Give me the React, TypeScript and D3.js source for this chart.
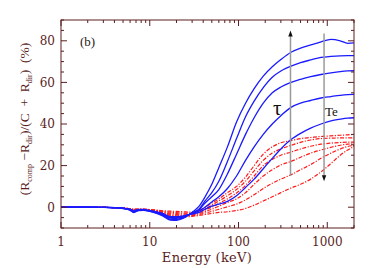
import React from 'react';
import { scaleLog, scaleLinear, line, curveMonotoneX, range } from 'd3';

// energy grid (keV)
const energies = [1, 2, 3, 4, 5, 6, 6.6, 7.5, 8.5, 10, 12, 14, 17, 20, 24, 28, 31, 36, 42, 50, 60, 75, 95, 120, 150, 190, 240, 300, 390, 500, 650, 850, 1100, 1400, 1700, 2000];

// solid blue curves (%)
const blue1 = [0, 0, -0.1, -0.3, -0.7, -1.5, -2.6, -1.6, -1.5, -2, -3, -4.2, -6.2, -6.3, -5.3, -3.5, -2, 0.5, 5, 11, 19, 29, 41, 50, 57, 63, 67.5, 71, 74.5, 76.5, 78, 79.5, 80.7, 80, 78.8, 79];
const blue2 = [0, 0, -0.1, -0.3, -0.6, -1.3, -2.3, -1.5, -1.4, -1.9, -2.8, -3.9, -5.8, -5.9, -5, -3.5, -2.5, -0.8, 3, 7, 12.5, 22, 33, 43.5, 51, 57.5, 62.5, 65.5, 67.8, 69.5, 70.8, 72, 72.5, 72.8, 72.9, 72.9];
const blue3 = [0, 0, -0.1, -0.2, -0.5, -1.2, -2, -1.3, -1.3, -1.8, -2.6, -3.6, -5.3, -5.4, -4.7, -3.5, -2.8, -1.2, 2, 5, 8.5, 16, 25.5, 35, 43, 50, 55, 57.8, 60, 61.5, 62.8, 63.8, 64.6, 65.2, 65.5, 65.6];
const blue4 = [0, 0, -0.1, -0.2, -0.5, -1.1, -1.8, -1.2, -1.2, -1.7, -2.4, -3.3, -4.9, -5, -4.4, -3.4, -3, -1.8, 0, 2.5, 5, 9, 15, 22.5, 29, 35, 40, 44, 48, 50, 51.3, 52.5, 53.2, 53.8, 54.1, 54.2];
const blue5 = [0, 0, -0.1, -0.2, -0.4, -1, -1.6, -1.1, -1.1, -1.6, -2.2, -3, -4.5, -4.6, -4.2, -3.4, -3.2, -2.5, -1, 0.5, 1.5, 2.8, 5.5, 9.5, 13.5, 18.5, 23.5, 28, 32.5, 35.5, 38, 40, 41.5, 42.3, 42.8, 43];

// dash-dot red curves (%)
const red1 = [0, 0, -0.1, -0.2, -0.4, -0.7, -1, -0.9, -0.9, -1.1, -1.4, -1.7, -1.9, -2, -2.2, -2.4, -2.4, -1.5, 0, 2, 4, 7, 10, 14.5, 20, 25.5, 29, 31, 32, 33, 33.5, 34, 34.3, 34.6, 34.8, 35];
const red2 = [0, 0, -0.1, -0.2, -0.4, -0.8, -1.1, -1, -1, -1.2, -1.6, -2, -2.4, -2.6, -2.8, -2.9, -2.8, -2, -0.7, 1, 3, 5.5, 8.5, 12.5, 17.5, 22.5, 26, 28, 29.7, 31.2, 32.3, 33, 33.2, 33.3, 33.3, 33.3];
const red3 = [0, 0, -0.1, -0.2, -0.4, -0.8, -1.1, -1, -1, -1.3, -1.8, -2.3, -2.9, -3.1, -3.3, -3.4, -3.3, -2.5, -1.3, 0, 1.8, 4, 6.8, 10.5, 15, 20, 23, 25, 26.5, 28, 29.3, 30.3, 30.8, 31.1, 31.3, 31.3];
const red4 = [0, 0, -0.1, -0.2, -0.4, -0.9, -1.2, -1.1, -1.1, -1.4, -2, -2.6, -3.4, -3.6, -3.8, -3.8, -3.6, -3, -2, -1, 0.5, 2.3, 4, 7, 11, 15, 18, 20.3, 22, 24, 26, 27.5, 28.8, 29.8, 30.3, 30.5];
const red5 = [0, 0, -0.1, -0.2, -0.4, -0.9, -1.2, -1.1, -1.2, -1.5, -2.2, -2.9, -3.9, -4.1, -4.2, -4.1, -4, -3.5, -2.8, -2, -1, 0.2, 1.5, 3.5, 6, 9, 11.5, 13.5, 15.6, 18, 20.5, 23.5, 26, 28, 29.2, 29.7];
const red6 = [0, 0, -0.1, -0.2, -0.4, -0.9, -1.3, -1.2, -1.2, -1.6, -2.4, -3.2, -4.3, -4.5, -4.6, -4.5, -4.3, -4, -3.5, -3, -2.5, -2.2, -1.6, -0.6, 1, 3, 5, 7, 9.2, 11, 13.5, 17, 21, 25, 27.5, 29.2];

const blueSeries = [blue1, blue2, blue3, blue4, blue5];
const redSeries = [red1, red2, red3, red4, red5, red6];

const xTickLabels = [1, 10, 100, 1000];
const yTickLabels = [0, 20, 40, 60, 80];

// arrows: [energy, from %, to %]
const tauArrow = [385, 15, 85];
const teArrow = [920, 83.5, 12.5];

const W = 374;
const H = 268;
const ink = '#5a1e1e';

const App = () => {
  const x = scaleLog().domain([1, 2000]).range([61, 354]);
  const y = scaleLinear().domain([-10, 90]).range([228, 20]);

  const gen = line<number>()
    .x((d, i) => x(energies[i]))
    .y(d => y(d))
    .curve(curveMonotoneX);

  const minorX: number[] = [];
  [1, 10, 100, 1000].forEach(dec => {
    for (let m = 1; m <= 9; m++) {
      const v = dec * m;
      if (v <= 2000) minorX.push(v);
    }
  });
  const yTicks = range(-10, 91, 5);

  const [x0, x1] = x.range();
  const [y0, y1] = y.range();

  return (
    <svg width={W} height={H} style={{ position: 'absolute', left: 0, top: 0, background: '#fff' }}>
      {/* curves */}
      {redSeries.map((s, i) => (
        <path key={'r' + i} d={gen(s) || ''} fill="none" stroke="#ff1a1a" strokeWidth={1.2}
          strokeDasharray="4,1.5,1.2,1.5" />
      ))}
      {blueSeries.map((s, i) => (
        <path key={'b' + i} d={gen(s) || ''} fill="none" stroke="#1a1aff" strokeWidth={1.3} />
      ))}

      {/* arrows */}
      <line x1={x(tauArrow[0])} x2={x(tauArrow[0])} y1={y(tauArrow[1])} y2={y(tauArrow[2]) + 4}
        stroke="#9a9a9a" strokeWidth={1.5} />
      <path d={`M${x(tauArrow[0])},${y(tauArrow[2])} l-2.2,6 l4.4,0 z`} fill="#111" />
      <line x1={x(teArrow[0])} x2={x(teArrow[0])} y1={y(teArrow[1])} y2={y(teArrow[2]) - 4}
        stroke="#9a9a9a" strokeWidth={1.5} />
      <path d={`M${x(teArrow[0])},${y(teArrow[2])} l-2.2,-6 l4.4,0 z`} fill="#111" />

      {/* frame */}
      <rect x={x0} y={y1} width={x1 - x0} height={y0 - y1} fill="none" stroke={ink} strokeWidth={1} />

      {/* x ticks */}
      {minorX.map(v => {
        const len = xTickLabels.includes(v) ? 6 : 3;
        return (
          <g key={'xt' + v}>
            <line x1={x(v)} x2={x(v)} y1={y0} y2={y0 - len} stroke={ink} />
            <line x1={x(v)} x2={x(v)} y1={y1} y2={y1 + len} stroke={ink} />
          </g>
        );
      })}
      {xTickLabels.map(v => (
        <text key={'xl' + v} x={x(v)} y={246} textAnchor="middle" fontFamily="DejaVu Serif" fontSize={12} fill={ink}>{v}</text>
      ))}

      {/* y ticks */}
      {yTicks.map(v => {
        const len = v % 20 === 0 ? 6 : 3;
        return (
          <g key={'yt' + v}>
            <line x1={x0} x2={x0 + len} y1={y(v)} y2={y(v)} stroke={ink} />
            <line x1={x1} x2={x1 - len} y1={y(v)} y2={y(v)} stroke={ink} />
          </g>
        );
      })}
      {yTickLabels.map(v => (
        <text key={'yl' + v} x={55} y={y(v) + 4.3} textAnchor="end" fontFamily="DejaVu Serif" fontSize={12} fill={ink}>{v}</text>
      ))}

      {/* axis titles */}
      <text x={207} y={261.5} textAnchor="middle" fontFamily="DejaVu Serif" fontSize={13} letterSpacing={0.3} fill={ink}>Energy (keV)</text>
      <text transform="translate(29,119) rotate(-90)" textAnchor="middle" fontFamily="Liberation Serif" fontSize={13.5} fill={ink} style={{ whiteSpace: 'pre' }}>
        (R<tspan fontSize={8} dy={3}>comp</tspan><tspan dy={-3}> −R</tspan><tspan fontSize={8} dy={3}>dir</tspan><tspan dy={-3}>)/(C  +  R</tspan><tspan fontSize={8} dy={3}>dir</tspan><tspan dy={-3}>)  (%)</tspan>
      </text>

      {/* annotations */}
      <text x={80} y={46} fontFamily="Liberation Serif" fontSize={13} fill="#2a1a1a">(b)</text>
      <text x={273} y={115} fontFamily="Liberation Serif" fontSize={21} fill="#111">τ</text>
      <text x={325} y={115.5} fontFamily="Liberation Serif" fontSize={13} fill="#111">Te</text>
    </svg>
  );
};

export default App;
